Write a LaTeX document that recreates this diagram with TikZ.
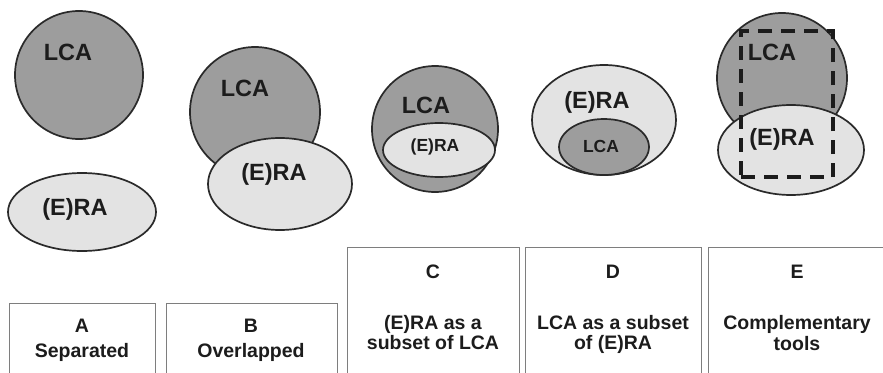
\documentclass[tikz,border=0pt]{standalone}
\usepackage{fontspec}
\setmainfont{Liberation Sans}
\usetikzlibrary{shapes.geometric}
\definecolor{lcafill}{HTML}{9D9D9D}
\definecolor{rafill}{HTML}{E3E3E3}
\definecolor{edgecol}{HTML}{2A2A2A}
\definecolor{panelline}{HTML}{7E7E7E}
\definecolor{inkcol}{HTML}{1C1C1C}
\begin{document}
\begin{tikzpicture}[x=1pt,y=-1pt,
  lcadisc/.style={circle, draw=edgecol, line width=1.7pt, fill=lcafill,
    inner sep=0pt, minimum size=#1},
  raoval/.style n args={2}{ellipse, draw=edgecol, line width=1.7pt, fill=rafill,
    inner sep=0pt, minimum width=#1, minimum height=#2},
  lcaoval/.style n args={2}{ellipse, draw=edgecol, line width=1.7pt, fill=lcafill,
    inner sep=0pt, minimum width=#1, minimum height=#2},
  biglabel/.style={text=inkcol, inner sep=0pt, font=\fontsize{23.5}{27}\selectfont\bfseries},
  smalllabel/.style={text=inkcol, inner sep=0pt, font=\fontsize{17.5}{20}\selectfont\bfseries},
  panel/.style={draw=panelline, line width=1.4pt, fill=white, anchor=north west,
    inner sep=0pt},
  paneltext/.style={text=inkcol, inner sep=0pt, anchor=base,
    font=\fontsize{19.5}{21}\selectfont\bfseries},
  toolframe/.style={draw=inkcol, line width=4pt, dash pattern=on 14pt off 9pt}
]
\useasboundingbox (0,0) rectangle (883,372);
\clip (0,0) rectangle (883,372);
\fill[white] (0,0) rectangle (883,372);

% A: separated
\node[lcadisc=128pt] (aL) at (79,75) {};
\node[raoval={148pt}{78pt}] (aR) at (82,212) {};
\node[biglabel] (aLt) at (68,52) {LCA};
\node[biglabel] (aRt) at (75,209) {(E)RA};

% B: overlapped
\node[lcadisc=130pt] (bL) at (255,112) {};
\node[raoval={144pt}{92pt}] (bR) at (280,184) {};
\node[biglabel] (bLt) at (245,88) {LCA};
\node[biglabel] (bRt) at (274,174) {(E)RA};

% C: (E)RA inside LCA
\node[lcadisc=126pt] (cL) at (435,129) {};
\node[raoval={112pt}{54pt}] (cR) at (439,150) {};
\node[biglabel] (cLt) at (426,105) {LCA};
\node[smalllabel] (cRt) at (435,147) {(E)RA};

% D: LCA inside (E)RA
\node[raoval={144pt}{110pt}] (dR) at (604,120) {};
\node[lcaoval={90pt}{56pt}] (dL) at (604,147) {};
\node[biglabel] (dRt) at (597,102) {(E)RA};
\node[smalllabel] (dLt) at (601,146) {LCA};

% E: complementary tools
\node[lcadisc=130pt] (eL) at (782,78) {};
\node[raoval={146pt}{90pt}] (eR) at (791,150) {};
\node[biglabel] (eLt) at (772,52) {LCA};
\node[biglabel] (eRt) at (782,139) {(E)RA};
\node[toolframe, inner sep=0pt, minimum width=92pt, minimum height=146pt,
  anchor=north west] (eF) at (739,29) {};

% caption panels
\node[panel, minimum width=146pt, minimum height=80pt] (pA) at (9,303) {};
\node[panel, minimum width=171pt, minimum height=80pt] (pB) at (166,303) {};
\node[panel, minimum width=172pt, minimum height=136pt] (pC) at (347,247) {};
\node[panel, minimum width=176pt, minimum height=136pt] (pD) at (525,247) {};
\node[panel, minimum width=178pt, minimum height=136pt] (pE) at (708,247) {};

\node[paneltext] (tA1) at (82,332) {A};
\node[paneltext] (tA2) at (82,357) {Separated};
\node[paneltext] (tB1) at (251,332) {B};
\node[paneltext] (tB2) at (251,357) {Overlapped};
\node[paneltext] (tC1) at (433,278) {C};
\node[paneltext] (tC2) at (433,329) {(E)RA as a};
\node[paneltext] (tC3) at (433,349) {subset of LCA};
\node[paneltext] (tD1) at (613,278) {D};
\node[paneltext] (tD2) at (613,329) {LCA as a subset};
\node[paneltext] (tD3) at (613,349) {of (E)RA};
\node[paneltext] (tE1) at (797,278) {E};
\node[paneltext] (tE2) at (797,329) {Complementary};
\node[paneltext] (tE3) at (797,350) {tools};
\end{tikzpicture}
\end{document}
